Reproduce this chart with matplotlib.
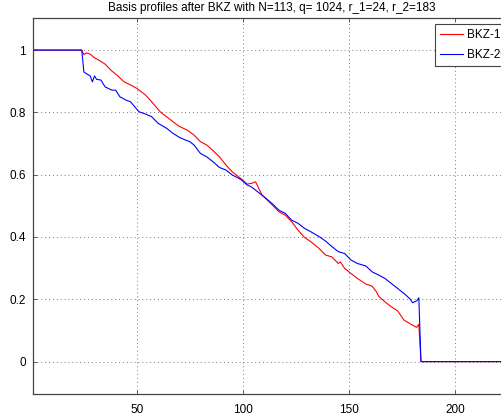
import matplotlib
matplotlib.use("Agg")
import matplotlib.pyplot as plt

plt.rcParams['font.family'] = ['Liberation Sans', 'DejaVu Sans']

title = "Basis profiles after BKZ with N=113, q= 1024, r_1=24, r_2=183"
labels = ["BKZ-10", "BKZ-20"]

red_x = [1, 24, 25, 26, 28, 30, 32, 35, 38, 41, 44, 47, 50, 54, 57, 61, 64, 67, 70,
         71, 74, 77, 80, 83, 86, 89, 92, 95, 99, 102, 104, 106, 109, 114, 117, 120,
         123, 126, 129, 132, 136, 139, 142, 145, 146, 148, 151, 154, 158, 161, 163,
         164, 167, 170, 173, 176, 178, 180, 182, 183, 184, 226]
red_y = [1.0, 1.0, 0.985, 0.991, 0.987, 0.975, 0.968, 0.955, 0.934, 0.917, 0.898,
         0.888, 0.877, 0.856, 0.834, 0.802, 0.786, 0.770, 0.755, 0.752, 0.742, 0.727,
         0.706, 0.695, 0.677, 0.657, 0.631, 0.609, 0.588, 0.570, 0.572, 0.577, 0.535,
         0.502, 0.481, 0.470, 0.449, 0.422, 0.399, 0.385, 0.363, 0.342, 0.336, 0.315,
         0.320, 0.299, 0.283, 0.267, 0.249, 0.242, 0.224, 0.210, 0.192, 0.176, 0.163,
         0.133, 0.125, 0.117, 0.110, 0.120, 0.0, 0.0]

blue_x = [1, 24, 25, 26, 28, 29, 30, 31, 33, 35, 38, 40, 42, 45, 47, 49, 51, 54, 57,
          60, 64, 67, 70, 73, 75, 77, 80, 83, 86, 89, 92, 95, 99, 102, 104, 107, 110,
          114, 117, 120, 123, 126, 129, 132, 136, 139, 142, 145, 148, 151, 154, 158,
          161, 164, 167, 170, 173, 175, 177, 179, 180, 182, 183, 184, 226]
blue_y = [1.0, 1.0, 0.930, 0.925, 0.917, 0.898, 0.917, 0.906, 0.904, 0.882, 0.872,
          0.871, 0.850, 0.839, 0.834, 0.818, 0.802, 0.795, 0.786, 0.765, 0.749, 0.733,
          0.720, 0.711, 0.706, 0.695, 0.668, 0.657, 0.641, 0.623, 0.615, 0.599, 0.585,
          0.567, 0.561, 0.545, 0.529, 0.506, 0.486, 0.476, 0.454, 0.444, 0.428, 0.417,
          0.401, 0.387, 0.369, 0.353, 0.347, 0.326, 0.315, 0.307, 0.288, 0.278, 0.267,
          0.251, 0.235, 0.224, 0.213, 0.200, 0.189, 0.195, 0.205, 0.0, 0.0]

xticks = [50, 100, 150, 200]
yticks = [0, 0.2, 0.4, 0.6, 0.8, 1]
ytick_labels = ["0", "0.2", "0.4", "0.6", "0.8", "1"]

W, H = 501, 418
fig = plt.figure(figsize=(W / 100, H / 100), dpi=100)
ax = fig.add_axes([33 / W, (H - 394) / H, (510 - 33) / W, (394 - 18) / H])

ax.plot(red_x, red_y, color='#ff0000', lw=0.8, label=labels[0])
ax.plot(blue_x, blue_y, color='#0000ff', lw=0.8, label=labels[1])

ax.set_xlim(1, 226)
ax.set_ylim(-0.104, 1.103)
ax.set_xticks(xticks)
ax.set_yticks(yticks)
ax.set_yticklabels(ytick_labels)
ax.tick_params(direction='in', length=3, width=0.6, color='#444444',
               labelsize=8.5, top=True, right=True)
ax.tick_params(axis='y', pad=5)
ax.tick_params(axis='x', pad=7)
ax.grid(True, linestyle=(0, (1, 3)), color='#777777', lw=0.7)
for s in ax.spines.values():
    s.set_color('#444444')
    s.set_linewidth(0.9)

ax.set_title(title, fontsize=8.5, pad=5)

leg = ax.legend(loc='upper left', bbox_to_anchor=((435 - 33) / 477, (394 - 24) / 376),
                fontsize=8.5, fancybox=False, framealpha=1, edgecolor='#444444',
                handlelength=1.95, labelspacing=0.7, borderpad=0.4, handletextpad=0.35,
                borderaxespad=0)
leg.get_frame().set_linewidth(0.8)

fig.savefig("out.png", dpi=100)
